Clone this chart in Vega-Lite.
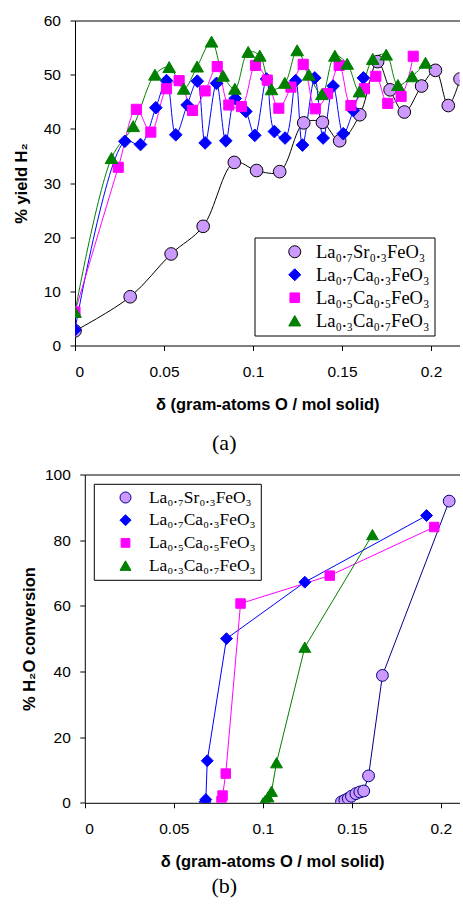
{
  "$schema": "https://vega.github.io/schema/vega-lite/v6.json",
  "padding": {"left": 13, "top": 13.5, "right": 0, "bottom": 0},
  "spacing": 14,
  "resolve": {
    "scale": {"fill": "independent", "stroke": "independent", "shape": "independent"},
    "legend": {"fill": "independent", "stroke": "independent", "shape": "independent"}
  },
  "config": {
    "font": "Liberation Sans",
    "view": {"stroke": null},
    "axis": {
      "grid": false,
      "labelFont": "Liberation Sans",
      "labelFontSize": 15.5,
      "labelColor": "black",
      "titleFont": "Liberation Sans",
      "titleFontSize": 16.5,
      "titleFontWeight": "bold",
      "titleColor": "black",
      "domainColor": "black",
      "tickColor": "black",
      "tickSize": 5
    },
    "axisX": {"labelPadding": 14, "titlePadding": 16},
    "axisY": {"labelPadding": 9.5, "titlePadding": 14},
    "legend": {
      "labelFont": "Liberation Serif",
      "labelColor": "black",
      "strokeColor": "black",
      "fillColor": "white",
      "symbolStrokeWidth": 1,
      "symbolOpacity": 1
    },
    "title": {"font": "Liberation Serif", "fontSize": 22, "fontWeight": "normal", "color": "black", "orient": "bottom", "anchor": "middle"}
  },
  "datasets": {
    "top": [
      {"s": "La₀.₇Sr₀.₃FeO₃", "x": 0, "y": 2.7},
      {"s": "La₀.₇Sr₀.₃FeO₃", "x": 0.031, "y": 9.0},
      {"s": "La₀.₇Sr₀.₃FeO₃", "x": 0.054, "y": 16.9},
      {"s": "La₀.₇Sr₀.₃FeO₃", "x": 0.072, "y": 22.0},
      {"s": "La₀.₇Sr₀.₃FeO₃", "x": 0.0895, "y": 33.8},
      {"s": "La₀.₇Sr₀.₃FeO₃", "x": 0.102, "y": 32.3},
      {"s": "La₀.₇Sr₀.₃FeO₃", "x": 0.115, "y": 32.1},
      {"s": "La₀.₇Sr₀.₃FeO₃", "x": 0.1285, "y": 41.1},
      {"s": "La₀.₇Sr₀.₃FeO₃", "x": 0.139, "y": 41.2},
      {"s": "La₀.₇Sr₀.₃FeO₃", "x": 0.1487, "y": 37.8},
      {"s": "La₀.₇Sr₀.₃FeO₃", "x": 0.16, "y": 42.6},
      {"s": "La₀.₇Sr₀.₃FeO₃", "x": 0.17, "y": 52.4},
      {"s": "La₀.₇Sr₀.₃FeO₃", "x": 0.177, "y": 47.2},
      {"s": "La₀.₇Sr₀.₃FeO₃", "x": 0.185, "y": 43.1},
      {"s": "La₀.₇Sr₀.₃FeO₃", "x": 0.1947, "y": 47.9},
      {"s": "La₀.₇Sr₀.₃FeO₃", "x": 0.2025, "y": 50.8},
      {"s": "La₀.₇Sr₀.₃FeO₃", "x": 0.2097, "y": 44.3},
      {"s": "La₀.₇Sr₀.₃FeO₃", "x": 0.2163, "y": 49.2},
      {"s": "La₀.₇Ca₀.₃FeO₃", "x": 0, "y": 2.9},
      {"s": "La₀.₇Ca₀.₃FeO₃", "x": 0.028, "y": 37.7},
      {"s": "La₀.₇Ca₀.₃FeO₃", "x": 0.0368, "y": 37.1},
      {"s": "La₀.₇Ca₀.₃FeO₃", "x": 0.0454, "y": 43.9},
      {"s": "La₀.₇Ca₀.₃FeO₃", "x": 0.0514, "y": 48.9},
      {"s": "La₀.₇Ca₀.₃FeO₃", "x": 0.0566, "y": 38.9},
      {"s": "La₀.₇Ca₀.₃FeO₃", "x": 0.063, "y": 44.4},
      {"s": "La₀.₇Ca₀.₃FeO₃", "x": 0.0687, "y": 48.8},
      {"s": "La₀.₇Ca₀.₃FeO₃", "x": 0.0731, "y": 37.4},
      {"s": "La₀.₇Ca₀.₃FeO₃", "x": 0.0795, "y": 48.4},
      {"s": "La₀.₇Ca₀.₃FeO₃", "x": 0.0847, "y": 37.8},
      {"s": "La₀.₇Ca₀.₃FeO₃", "x": 0.09, "y": 45.6},
      {"s": "La₀.₇Ca₀.₃FeO₃", "x": 0.096, "y": 43.2},
      {"s": "La₀.₇Ca₀.₃FeO₃", "x": 0.101, "y": 38.8},
      {"s": "La₀.₇Ca₀.₃FeO₃", "x": 0.1076, "y": 49.2},
      {"s": "La₀.₇Ca₀.₃FeO₃", "x": 0.112, "y": 39.5},
      {"s": "La₀.₇Ca₀.₃FeO₃", "x": 0.118, "y": 38.3},
      {"s": "La₀.₇Ca₀.₃FeO₃", "x": 0.124, "y": 48.9},
      {"s": "La₀.₇Ca₀.₃FeO₃", "x": 0.1278, "y": 37.0},
      {"s": "La₀.₇Ca₀.₃FeO₃", "x": 0.1347, "y": 49.4},
      {"s": "La₀.₇Ca₀.₃FeO₃", "x": 0.1394, "y": 38.3},
      {"s": "La₀.₇Ca₀.₃FeO₃", "x": 0.145, "y": 47.9},
      {"s": "La₀.₇Ca₀.₃FeO₃", "x": 0.1507, "y": 39.1},
      {"s": "La₀.₇Ca₀.₃FeO₃", "x": 0.1563, "y": 43.4},
      {"s": "La₀.₇Ca₀.₃FeO₃", "x": 0.162, "y": 49.4},
      {"s": "La₀.₅Ca₀.₅FeO₃", "x": 0, "y": 6.2},
      {"s": "La₀.₅Ca₀.₅FeO₃", "x": 0.0243, "y": 32.9},
      {"s": "La₀.₅Ca₀.₅FeO₃", "x": 0.0345, "y": 43.6},
      {"s": "La₀.₅Ca₀.₅FeO₃", "x": 0.0426, "y": 39.4},
      {"s": "La₀.₅Ca₀.₅FeO₃", "x": 0.0514, "y": 47.4},
      {"s": "La₀.₅Ca₀.₅FeO₃", "x": 0.0585, "y": 48.9},
      {"s": "La₀.₅Ca₀.₅FeO₃", "x": 0.066, "y": 43.4},
      {"s": "La₀.₅Ca₀.₅FeO₃", "x": 0.0731, "y": 47.0},
      {"s": "La₀.₅Ca₀.₅FeO₃", "x": 0.0799, "y": 51.5},
      {"s": "La₀.₅Ca₀.₅FeO₃", "x": 0.0864, "y": 44.4},
      {"s": "La₀.₅Ca₀.₅FeO₃", "x": 0.0935, "y": 44.1},
      {"s": "La₀.₅Ca₀.₅FeO₃", "x": 0.1014, "y": 51.7},
      {"s": "La₀.₅Ca₀.₅FeO₃", "x": 0.108, "y": 49.0},
      {"s": "La₀.₅Ca₀.₅FeO₃", "x": 0.1145, "y": 43.8},
      {"s": "La₀.₅Ca₀.₅FeO₃", "x": 0.1213, "y": 47.7},
      {"s": "La₀.₅Ca₀.₅FeO₃", "x": 0.1282, "y": 51.9},
      {"s": "La₀.₅Ca₀.₅FeO₃", "x": 0.135, "y": 43.7},
      {"s": "La₀.₅Ca₀.₅FeO₃", "x": 0.1419, "y": 46.5},
      {"s": "La₀.₅Ca₀.₅FeO₃", "x": 0.1484, "y": 51.7},
      {"s": "La₀.₅Ca₀.₅FeO₃", "x": 0.155, "y": 44.3},
      {"s": "La₀.₅Ca₀.₅FeO₃", "x": 0.1626, "y": 47.4},
      {"s": "La₀.₅Ca₀.₅FeO₃", "x": 0.169, "y": 49.7},
      {"s": "La₀.₅Ca₀.₅FeO₃", "x": 0.1757, "y": 44.7},
      {"s": "La₀.₅Ca₀.₅FeO₃", "x": 0.1832, "y": 46.0},
      {"s": "La₀.₅Ca₀.₅FeO₃", "x": 0.19, "y": 53.4},
      {"s": "La₀.₃Ca₀.₇FeO₃", "x": 0, "y": 6.2},
      {"s": "La₀.₃Ca₀.₇FeO₃", "x": 0.0205, "y": 34.6},
      {"s": "La₀.₃Ca₀.₇FeO₃", "x": 0.0327, "y": 40.5},
      {"s": "La₀.₃Ca₀.₇FeO₃", "x": 0.0449, "y": 50.0},
      {"s": "La₀.₃Ca₀.₇FeO₃", "x": 0.0529, "y": 51.4},
      {"s": "La₀.₃Ca₀.₇FeO₃", "x": 0.0611, "y": 47.4},
      {"s": "La₀.₃Ca₀.₇FeO₃", "x": 0.0686, "y": 51.5},
      {"s": "La₀.₃Ca₀.₇FeO₃", "x": 0.0767, "y": 56.1},
      {"s": "La₀.₃Ca₀.₇FeO₃", "x": 0.0832, "y": 49.8},
      {"s": "La₀.₃Ca₀.₇FeO₃", "x": 0.0898, "y": 47.4},
      {"s": "La₀.₃Ca₀.₇FeO₃", "x": 0.0973, "y": 54.2},
      {"s": "La₀.₃Ca₀.₇FeO₃", "x": 0.1038, "y": 53.5},
      {"s": "La₀.₃Ca₀.₇FeO₃", "x": 0.1104, "y": 47.3},
      {"s": "La₀.₃Ca₀.₇FeO₃", "x": 0.1179, "y": 48.5},
      {"s": "La₀.₃Ca₀.₇FeO₃", "x": 0.1248, "y": 54.5},
      {"s": "La₀.₃Ca₀.₇FeO₃", "x": 0.1314, "y": 50.0},
      {"s": "La₀.₃Ca₀.₇FeO₃", "x": 0.1387, "y": 46.4},
      {"s": "La₀.₃Ca₀.₇FeO₃", "x": 0.146, "y": 53.5},
      {"s": "La₀.₃Ca₀.₇FeO₃", "x": 0.1529, "y": 52.0},
      {"s": "La₀.₃Ca₀.₇FeO₃", "x": 0.1598, "y": 46.9},
      {"s": "La₀.₃Ca₀.₇FeO₃", "x": 0.1673, "y": 52.9},
      {"s": "La₀.₃Ca₀.₇FeO₃", "x": 0.1748, "y": 53.7},
      {"s": "La₀.₃Ca₀.₇FeO₃", "x": 0.1814, "y": 48.1},
      {"s": "La₀.₃Ca₀.₇FeO₃", "x": 0.1894, "y": 49.7},
      {"s": "La₀.₃Ca₀.₇FeO₃", "x": 0.1969, "y": 52.2}
    ],
    "bottom": [
      {"s": "La₀.₇Sr₀.₃FeO₃", "x": 0.1442, "y": 0.3},
      {"s": "La₀.₇Sr₀.₃FeO₃", "x": 0.1461, "y": 0.8},
      {"s": "La₀.₇Sr₀.₃FeO₃", "x": 0.148, "y": 1.3},
      {"s": "La₀.₇Sr₀.₃FeO₃", "x": 0.1498, "y": 2.0},
      {"s": "La₀.₇Sr₀.₃FeO₃", "x": 0.1523, "y": 2.8},
      {"s": "La₀.₇Sr₀.₃FeO₃", "x": 0.1545, "y": 3.3},
      {"s": "La₀.₇Sr₀.₃FeO₃", "x": 0.1567, "y": 3.6},
      {"s": "La₀.₇Sr₀.₃FeO₃", "x": 0.1594, "y": 8.2},
      {"s": "La₀.₇Sr₀.₃FeO₃", "x": 0.1672, "y": 38.8},
      {"s": "La₀.₇Sr₀.₃FeO₃", "x": 0.2047, "y": 91.9},
      {"s": "La₀.₇Ca₀.₃FeO₃", "x": 0.0675, "y": 0.3},
      {"s": "La₀.₇Ca₀.₃FeO₃", "x": 0.068, "y": 1.0},
      {"s": "La₀.₇Ca₀.₃FeO₃", "x": 0.0688, "y": 12.8},
      {"s": "La₀.₇Ca₀.₃FeO₃", "x": 0.0796, "y": 50.0},
      {"s": "La₀.₇Ca₀.₃FeO₃", "x": 0.1236, "y": 67.2},
      {"s": "La₀.₇Ca₀.₃FeO₃", "x": 0.192, "y": 87.5},
      {"s": "La₀.₅Ca₀.₅FeO₃", "x": 0.0768, "y": 0.5},
      {"s": "La₀.₅Ca₀.₅FeO₃", "x": 0.0774, "y": 2.2},
      {"s": "La₀.₅Ca₀.₅FeO₃", "x": 0.0792, "y": 8.9},
      {"s": "La₀.₅Ca₀.₅FeO₃", "x": 0.0875, "y": 60.7},
      {"s": "La₀.₅Ca₀.₅FeO₃", "x": 0.1376, "y": 69.2},
      {"s": "La₀.₅Ca₀.₅FeO₃", "x": 0.1963, "y": 84.0},
      {"s": "La₀.₃Ca₀.₇FeO₃", "x": 0.1002, "y": 0.0},
      {"s": "La₀.₃Ca₀.₇FeO₃", "x": 0.1015, "y": 0.8},
      {"s": "La₀.₃Ca₀.₇FeO₃", "x": 0.103, "y": 1.8},
      {"s": "La₀.₃Ca₀.₇FeO₃", "x": 0.1049, "y": 3.5},
      {"s": "La₀.₃Ca₀.₇FeO₃", "x": 0.1077, "y": 12.2},
      {"s": "La₀.₃Ca₀.₇FeO₃", "x": 0.1236, "y": 47.4},
      {"s": "La₀.₃Ca₀.₇FeO₃", "x": 0.1616, "y": 81.7}
    ]
  },
  "vconcat": [
    {
      "width": 384.5,
      "height": 325,
      "title": {"text": "(a)", "dx": -43, "offset": 20},
      "data": {"name": "top"},
      "resolve": {"axis": {"x": "independent"}},
      "encoding": {
        "x": {"field": "x", "type": "quantitative", "scale": {"domain": [0, 0.216], "nice": false, "zero": false}, "axis": null},
        "y": {"field": "y", "type": "quantitative", "scale": {"domain": [0, 60], "nice": false},
              "axis": {"values": [0, 10, 20, 30, 40, 50, 60], "title": "% yield H₂"}}
      },
      "layer": [
        {
          "transform": [{"filter": {"field": "s", "equal": "La₀.₇Sr₀.₃FeO₃"}}],
          "mark": {"type": "line", "interpolate": "catmull-rom", "stroke": "#000000", "strokeWidth": 1, "clip": true},
          "encoding": {
            "x": {"field": "x", "type": "quantitative",
                  "axis": {"values": [0, 0.05, 0.1, 0.15, 0.2], "format": "~g", "title": "δ (gram-atoms O / mol solid)"}}
          }
        },
        {
          "transform": [{"filter": {"field": "s", "equal": "La₀.₇Ca₀.₃FeO₃"}}],
          "mark": {"type": "line", "interpolate": "catmull-rom", "stroke": "#0000FF", "strokeWidth": 1, "clip": true},
          "encoding": {}
        },
        {
          "transform": [{"filter": {"field": "s", "equal": "La₀.₅Ca₀.₅FeO₃"}}],
          "mark": {"type": "line", "interpolate": "catmull-rom", "stroke": "#FF00FF", "strokeWidth": 1, "clip": true},
          "encoding": {}
        },
        {
          "transform": [{"filter": {"field": "s", "equal": "La₀.₃Ca₀.₇FeO₃"}}],
          "mark": {"type": "line", "interpolate": "catmull-rom", "stroke": "#008000", "strokeWidth": 1, "clip": true},
          "encoding": {}
        },
        {
          "mark": {"type": "point", "filled": true, "opacity": 1, "strokeWidth": 1, "size": 160, "clip": true},
          "encoding": {
            "x": {"field": "x", "type": "quantitative",
                  "axis": {"orient": "top", "labels": false, "ticks": false, "title": null, "domain": true}},
            "fill": {"field": "s", "type": "nominal",
                     "scale": {"domain": ["La₀.₇Sr₀.₃FeO₃", "La₀.₇Ca₀.₃FeO₃", "La₀.₅Ca₀.₅FeO₃", "La₀.₃Ca₀.₇FeO₃"], "range": ["#CC99FF", "#0000FF", "#FF00FF", "#008000"]},
                     "legend": {"title": null, "orient": "none", "legendX": 179.5, "legendY": 217, "padding": 5, "labelFontSize": 18.5, "symbolSize": 144, "symbolOffset": 26, "labelOffset": 12, "rowPadding": 4,
                                "labelExpr": "datum.label + '\u00a0\u00a0\u00a0\u00a0'"}},
            "stroke": {"field": "s", "type": "nominal",
                       "scale": {"domain": ["La₀.₇Sr₀.₃FeO₃", "La₀.₇Ca₀.₃FeO₃", "La₀.₅Ca₀.₅FeO₃", "La₀.₃Ca₀.₇FeO₃"], "range": ["#000000", "#0000FF", "#FF00FF", "#008000"]},
                       "legend": {"title": null, "orient": "none", "legendX": 179.5, "legendY": 217, "padding": 5, "labelFontSize": 18.5, "symbolSize": 144, "symbolOffset": 26, "labelOffset": 12, "rowPadding": 4,
                                  "labelExpr": "datum.label + '\u00a0\u00a0\u00a0\u00a0'"}},
            "shape": {"field": "s", "type": "nominal",
                      "scale": {"domain": ["La₀.₇Sr₀.₃FeO₃", "La₀.₇Ca₀.₃FeO₃", "La₀.₅Ca₀.₅FeO₃", "La₀.₃Ca₀.₇FeO₃"], "range": ["circle", "diamond", "M-0.8,-0.8H0.8V0.8H-0.8Z", "triangle-up"]},
                      "legend": {"title": null, "orient": "none", "legendX": 179.5, "legendY": 217, "padding": 5, "labelFontSize": 18.5, "symbolSize": 144, "symbolOffset": 26, "labelOffset": 12, "rowPadding": 4,
                                 "labelExpr": "datum.label + '\u00a0\u00a0\u00a0\u00a0'"}}
          }
        }
      ]
    },
    {
      "width": 384.5,
      "height": 328.3,
      "title": {"text": "(b)", "dx": -43, "offset": 6},
      "data": {"name": "bottom"},
      "resolve": {"axis": {"x": "independent"}},
      "encoding": {
        "x": {"field": "x", "type": "quantitative", "scale": {"domain": [0, 0.2105], "range": [9.8, 384.5], "nice": false, "zero": false}, "axis": null},
        "y": {"field": "y", "type": "quantitative", "scale": {"domain": [0, 100], "nice": false},
              "axis": {"values": [0, 20, 40, 60, 80, 100], "title": "% H₂O conversion", "offset": -9.8, "titlePadding": 7}}
      },
      "layer": [
        {
          "transform": [{"filter": {"field": "s", "equal": "La₀.₇Sr₀.₃FeO₃"}}],
          "mark": {"type": "line", "stroke": "#000080", "strokeWidth": 1, "clip": true},
          "encoding": {
            "x": {"field": "x", "type": "quantitative",
                  "axis": {"values": [0, 0.05, 0.1, 0.15, 0.2], "format": "~g", "title": "δ (gram-atoms O / mol solid)"}}
          }
        },
        {
          "transform": [{"filter": {"field": "s", "equal": "La₀.₇Ca₀.₃FeO₃"}}],
          "mark": {"type": "line", "stroke": "#0000FF", "strokeWidth": 1, "clip": true},
          "encoding": {}
        },
        {
          "transform": [{"filter": {"field": "s", "equal": "La₀.₅Ca₀.₅FeO₃"}}],
          "mark": {"type": "line", "stroke": "#FF00FF", "strokeWidth": 1, "clip": true},
          "encoding": {}
        },
        {
          "transform": [{"filter": {"field": "s", "equal": "La₀.₃Ca₀.₇FeO₃"}}],
          "mark": {"type": "line", "stroke": "#008000", "strokeWidth": 1, "clip": true},
          "encoding": {}
        },
        {
          "mark": {"type": "point", "filled": true, "opacity": 1, "strokeWidth": 1, "size": 140, "clip": true},
          "encoding": {
            "x": {"field": "x", "type": "quantitative",
                  "axis": {"orient": "top", "labels": false, "ticks": false, "domain": true, "title": null}},
            "fill": {"field": "s", "type": "nominal",
                     "scale": {"domain": ["La₀.₇Sr₀.₃FeO₃", "La₀.₇Ca₀.₃FeO₃", "La₀.₅Ca₀.₅FeO₃", "La₀.₃Ca₀.₇FeO₃"], "range": ["#CC99FF", "#0000FF", "#FF00FF", "#008000"]},
                     "legend": {"title": null, "orient": "none", "legendX": 18.8, "legendY": 9.3, "padding": 5, "labelFontSize": 17.4, "symbolSize": 121, "symbolOffset": 18, "labelOffset": 14.7, "rowPadding": 3.7,
                                "labelExpr": "datum.label + '\u00a0\u00a0\u00a0'"}},
            "stroke": {"field": "s", "type": "nominal",
                       "scale": {"domain": ["La₀.₇Sr₀.₃FeO₃", "La₀.₇Ca₀.₃FeO₃", "La₀.₅Ca₀.₅FeO₃", "La₀.₃Ca₀.₇FeO₃"], "range": ["#000080", "#0000FF", "#FF00FF", "#008000"]},
                       "legend": {"title": null, "orient": "none", "legendX": 18.8, "legendY": 9.3, "padding": 5, "labelFontSize": 17.4, "symbolSize": 121, "symbolOffset": 18, "labelOffset": 14.7, "rowPadding": 3.7,
                                  "labelExpr": "datum.label + '\u00a0\u00a0\u00a0'"}},
            "shape": {"field": "s", "type": "nominal",
                      "scale": {"domain": ["La₀.₇Sr₀.₃FeO₃", "La₀.₇Ca₀.₃FeO₃", "La₀.₅Ca₀.₅FeO₃", "La₀.₃Ca₀.₇FeO₃"], "range": ["circle", "diamond", "M-0.8,-0.8H0.8V0.8H-0.8Z", "triangle-up"]},
                      "legend": {"title": null, "orient": "none", "legendX": 18.8, "legendY": 9.3, "padding": 5, "labelFontSize": 17.4, "symbolSize": 121, "symbolOffset": 18, "labelOffset": 14.7, "rowPadding": 3.7,
                                 "labelExpr": "datum.label + '\u00a0\u00a0\u00a0'"}}
          }
        }
      ]
    }
  ]
}
